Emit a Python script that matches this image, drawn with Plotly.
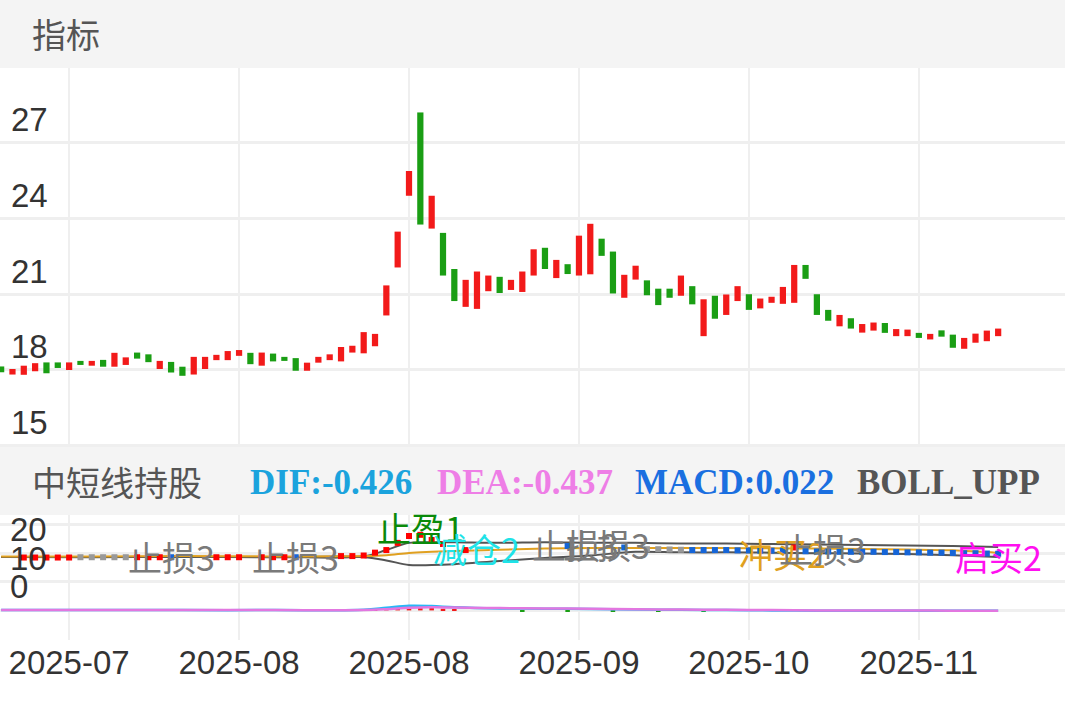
import plotly.graph_objects as go

# ---- candle data (index, open, close) ----
opens = [18.14,17.82,17.81,17.95,18.3,18.3,18.0,18.36,18.17,18.4,18.13,18.2,18.69,18.62,18.04,18.32,18.13,17.82,18.04,18.39,
         18.39,18.56,18.68,18.17,18.65,18.52,18.47,17.97,18.29,18.39,18.34,18.69,18.66,18.94,20.16,22.06,24.9,28.2,23.6,23.43,
         22.0,20.5,20.42,21.12,21.69,21.17,21.09,21.74,22.84,21.64,22.19,21.74,21.79,23.2,22.69,20.86,21.58,21.55,21.22,21.22,
         20.94,21.32,19.34,20.94,20.18,20.73,21.0,20.44,20.66,20.62,20.66,22.16,21.0,20.38,19.73,20.05,19.48,19.56,19.86,19.34,
         19.34,19.47,19.21,19.57,19.4,18.84,19.08,19.14,19.34]
closes = [17.91,18.04,18.17,18.27,17.87,18.08,18.3,18.2,18.36,18.13,18.68,18.5,18.45,18.31,18.36,17.9,17.77,18.52,18.52,18.6,
          18.75,18.79,18.23,18.69,18.34,18.36,17.97,18.29,18.52,18.62,18.91,18.96,19.5,19.43,21.35,23.48,25.88,23.76,24.9,21.74,
          20.73,21.57,21.9,21.74,21.05,21.57,21.9,22.78,22.0,22.36,21.8,23.32,23.79,22.52,21.03,21.77,22.13,20.96,20.57,20.86,
          21.74,20.6,20.8,20.03,20.99,21.32,20.38,20.83,20.9,21.29,22.16,21.61,20.18,19.95,20.18,19.64,19.82,19.88,19.47,19.62,
          19.6,19.27,19.43,19.32,18.88,19.27,19.44,19.56,19.64]
idx = list(range(len(opens)))

tick_idx = [6, 21, 36, 51, 66, 81]
tick_text = ["2025-07", "2025-08", "2025-08", "2025-09", "2025-10", "2025-11"]
price_ticks = [15, 18, 21, 24, 27]
lower_ticks = [20, 10, 0]

# ---- lower panel (BOLL + signals + MACD) ----
boll_x = [0, 8, 16, 24, 32, 34, 36, 38, 40, 44, 48, 52, 56, 60, 64, 68, 72, 76, 80, 84, 88]
boll_upper = [8.7,8.7,8.7,8.7,8.9,11.1,13.6,13.8,13.8,13.6,13.8,13.6,13.6,13.4,13.4,13.2,13.0,12.9,12.7,12.5,12.2]
boll_lower = [8.7,8.6,8.7,8.6,8.7,7.5,5.9,5.9,6.2,7.3,8.3,9.2,10.5,10.3,10.3,10.2,10.0,9.9,9.7,9.3,8.7]
boll_mid = [8.9,8.9,9.0,8.9,9.0,9.3,10.1,10.5,10.8,11.2,11.6,11.8,11.8,11.8,11.8,11.7,11.6,11.5,11.3,11.0,10.1]
dif = [-9.8,-9.8,-9.8,-9.8,-9.7,-9.0,-8.3,-8.4,-8.8,-9.2,-9.3,-9.4,-9.6,-9.7,-9.8,-9.9,-10.0,-10.0,-10.0,-10.0,-10.0]
dea = [-9.8,-9.8,-9.8,-9.8,-9.8,-9.5,-9.0,-8.8,-8.9,-9.1,-9.2,-9.3,-9.5,-9.6,-9.7,-9.8,-9.9,-9.9,-9.9,-10.0,-10.0]

sig_red_x = [2,3,4,5,6,12,13,14,19,20,21,23,24,25,30,31,32,33,34,35,36,37,38,39,41,70]
sig_red_v = [8.5,8.5,8.5,8.5,8.5,8.6,8.6,8.6,8.6,8.6,8.6,8.6,8.6,8.6,9.0,9.0,9.2,10.2,11.1,13.6,16.0,16.4,14.6,13.2,11.1,12.0]
sig_blue_x = [15,26,50,55,61,62,63,64,65,66,67,68,69,71,72,73,74,75,76,77,78,79,80,81,82,83,84,85,86,87,88]
sig_blue_v = [8.6,8.6,12.5,12.0,11.1,11.1,11.1,11.1,11.0,11.0,10.9,10.9,10.9,10.7,10.6,10.6,10.5,10.5,10.5,10.5,10.4,10.4,10.3,10.3,10.2,10.2,10.1,10.0,10.0,9.9,9.8]
sig_gray_x = [7,8,9,10,11,57,58,59,60]
sig_gray_v = [8.6,8.6,8.6,8.6,8.6,11.4,11.4,11.3,11.2]
hist_x = [33,34,35,36,37,38,39,40,46,50,54,58,62,66,70,74,78]
hist_v = [0.4,0.8,1.2,1.4,1.3,1.0,0.6,0.3,-0.3,-0.4,-0.4,-0.3,-0.3,-0.2,-0.2,-0.2,-0.1]

sig_labels = ["止损3", "止损3", "止盈1", "减仓2", "止损3", "止损3", "冲买2", "止损3", "启买2"]
sig_label_x = [15, 26, 37, 42, 50.7, 53.4, 69, 72.5, 88]
sig_label_v = [8.7, 8.7, 19.0, 11.8, 12.9, 12.9, 10.0, 11.8, 9.0]
sig_label_col = ["#7a7a7a", "#7a7a7a", "#0a8a0a", "#1fe3e8", "#7a7a7a", "#7a7a7a", "#e0a020", "#7a7a7a", "#ff10f0"]

RED, GREEN = "#f21a1a", "#1a9e14"
fig = go.Figure()
fig.add_trace(go.Bar(x=idx, y=[c - o for o, c in zip(opens, closes)], base=opens, width=0.55,
                     marker=dict(color=[RED if c >= o else GREEN for o, c in zip(opens, closes)], line_width=0),
                     xaxis="x", yaxis="y"))

fig.add_trace(go.Bar(x=hist_x, y=hist_v, base=-9.9, width=0.4,
                     marker=dict(color=[RED if v > 0 else GREEN for v in hist_v], line_width=0), xaxis="x2", yaxis="y2"))
fig.add_trace(go.Scatter(x=boll_x, y=dif, mode="lines", line=dict(color="#29b6f6", width=2.5, shape="spline"), xaxis="x2", yaxis="y2"))
fig.add_trace(go.Scatter(x=boll_x, y=dea, mode="lines", line=dict(color="#e277e0", width=2.5, shape="spline"), xaxis="x2", yaxis="y2"))
fig.add_trace(go.Scatter(x=boll_x, y=boll_upper, mode="lines", line=dict(color="#555555", width=2, shape="spline"), xaxis="x2", yaxis="y2"))
fig.add_trace(go.Scatter(x=boll_x, y=boll_lower, mode="lines", line=dict(color="#555555", width=2, shape="spline"), xaxis="x2", yaxis="y2"))
fig.add_trace(go.Scatter(x=boll_x, y=boll_mid, mode="lines", line=dict(color="#e0a020", width=2, shape="spline"), xaxis="x2", yaxis="y2"))
for xs, vs, col in [(sig_gray_x, sig_gray_v, "#999999"), (sig_red_x, sig_red_v, "#ff0000"), (sig_blue_x, sig_blue_v, "#1565d8")]:
    fig.add_trace(go.Scatter(x=xs, y=vs, mode="markers", marker=dict(symbol="square", size=6, color=col),
                             xaxis="x2", yaxis="y2"))
for t, x, v, c in zip(sig_labels, sig_label_x, sig_label_v, sig_label_col):
    fig.add_annotation(x=x, y=v, xref="x2", yref="y2", text=t, showarrow=False,
                       font=dict(size=34, color=c, family="Noto Sans CJK SC"))

W, H = 1065, 708
def py(px):
    return 1 - px / H

numfont = dict(size=33, color="#333333", family="Liberation Sans")
for v in lower_ticks:
    fig.add_annotation(xref="paper", yref="y2", x=8 / W, y=v, text=str(v), showarrow=False, xanchor="left",
                       yanchor="middle", yshift=-5, font=numfont)

for y0, y1 in [(0, 68), (447, 515)]:
    fig.add_shape(type="rect", xref="paper", yref="paper", x0=0, x1=1, y0=py(y1), y1=py(y0),
                  fillcolor="#f4f4f4", line_width=0, layer="below")
fig.add_annotation(xref="paper", yref="paper", x=30 / W, y=py(34), text="指标", showarrow=False, xanchor="left",
                   yanchor="middle", font=dict(size=34, color="#555555", family="Noto Sans CJK SC"))
fig.add_annotation(xref="paper", yref="paper", x=30 / W, y=py(481), text="中短线持股", showarrow=False, xanchor="left",
                   yanchor="middle", font=dict(size=34, color="#555555", family="Noto Sans CJK SC"))
hdr = [("DIF:-0.426", "#1ba3dd", 248), ("DEA:-0.437", "#ee7ee6", 435), ("MACD:0.022", "#1a6fe0", 633), ("BOLL_UPP", "#555555", 855)]
for t, c, x in hdr:
    fig.add_annotation(xref="paper", yref="paper", x=x / W, y=py(483), text="<b>" + t + "</b>", showarrow=False,
                       xanchor="left", yanchor="middle", font=dict(size=35, color=c, family="Liberation Serif"))

grid = "#efefef"
fig.update_layout(
    width=W, height=H, margin=dict(l=0, r=0, t=0, b=0), paper_bgcolor="white", plot_bgcolor="white",
    showlegend=False, barmode="overlay",
    xaxis=dict(domain=[0, 1], range=[-0.1, 93.9], tickvals=tick_idx, showticklabels=False, showgrid=True,
               gridcolor=grid, gridwidth=2, zeroline=False, anchor="y"),
    yaxis=dict(domain=[py(447), py(68)], range=[14.95, 29.96], tickvals=price_ticks,
               ticklabelposition="inside top", ticklabelstandoff=8, tickfont=numfont, showgrid=True,
               gridcolor=grid, gridwidth=3, zeroline=False),
    xaxis2=dict(domain=[0, 1], range=[-0.1, 93.9], tickvals=tick_idx, ticktext=tick_text, showgrid=True,
                gridcolor=grid, gridwidth=2, zeroline=False, anchor="y2", tickfont=numfont, ticks=""),
    yaxis2=dict(domain=[py(640), py(515)], range=[-20.2, 23.3], tickvals=[20, 10, 0, -10],
                showticklabels=False, showgrid=True, gridcolor=grid, gridwidth=3, zeroline=False),
)
fig.write_html("out.html", config={"displayModeBar": False},
               post_script="document.body.style.margin='0';document.body.style.overflow='hidden';")
